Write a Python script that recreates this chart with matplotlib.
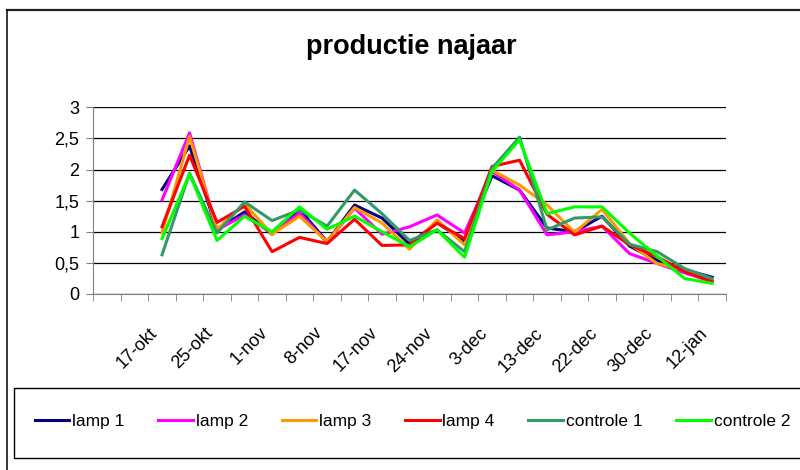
import numpy as np
import matplotlib.pyplot as plt
from matplotlib.patches import Rectangle

plt.rcParams['font.family'] = ['Liberation Sans', 'DejaVu Sans']

# 23 categories on the axis, data from category 2 to 22
n_cat = 23
labels = ['17-okt', '25-okt', '1-nov', '8-nov', '17-nov', '24-nov',
          '3-dec', '13-dec', '22-dec', '30-dec', '12-jan']
label_pos = list(range(2, 23, 2))
first = 2

lamp1 = [1.68, 2.38, 1.03, 1.32, 0.96, 1.36, 0.84, 1.43, 1.22, 0.80, 1.15,
         0.84, 1.90, 1.67, 1.06, 1.00, 1.25, 0.77, 0.54, 0.39, 0.27]
lamp2 = [1.51, 2.59, 1.03, 1.27, 0.98, 1.30, 0.83, 1.38, 0.96, 1.08, 1.27,
         0.98, 1.97, 1.67, 0.95, 1.00, 1.09, 0.65, 0.49, 0.34, 0.20]
lamp3 = [0.98, 2.53, 1.04, 1.45, 0.96, 1.25, 0.84, 1.39, 1.14, 0.72, 1.19,
         0.79, 1.99, 1.75, 1.43, 0.99, 1.36, 0.81, 0.49, 0.39, 0.22]
lamp4 = [1.08, 2.23, 1.15, 1.41, 0.68, 0.91, 0.81, 1.20, 0.78, 0.79, 1.14,
         0.89, 2.05, 2.15, 1.28, 0.95, 1.09, 0.79, 0.60, 0.36, 0.20]
controle1 = [0.63, 1.94, 0.98, 1.48, 1.18, 1.35, 1.09, 1.67, 1.29, 0.86, 1.03,
             0.68, 2.02, 2.52, 1.03, 1.22, 1.24, 0.80, 0.68, 0.41, 0.25]
controle2 = [0.89, 1.93, 0.86, 1.25, 1.00, 1.40, 1.04, 1.25, 1.00, 0.76, 1.03,
             0.59, 1.97, 2.48, 1.29, 1.40, 1.40, 0.98, 0.61, 0.25, 0.17]

series = [('lamp 1', lamp1, '#000080'),
          ('lamp 2', lamp2, '#FF00FF'),
          ('lamp 3', lamp3, '#FF9900'),
          ('lamp 4', lamp4, '#FF0000'),
          ('controle 1', controle1, '#339966'),
          ('controle 2', controle2, '#00FF00')]

fig = plt.figure(figsize=(8, 4.7), dpi=100)
W, H = 800, 470

# outer chart border (only top and left are inside the picture)
fig.lines.append(plt.Line2D([7 / W, 1.0], [1 - 9.5 / H, 1 - 9.5 / H],
                            transform=fig.transFigure, color='#222222', lw=1.6))
fig.lines.append(plt.Line2D([7 / W, 7 / W], [0, 1 - 9.5 / H],
                            transform=fig.transFigure, color='black', lw=1.1))

ax = fig.add_axes([93.3 / W, 1 - 294 / H, 632.5 / W, 186.7 / H])

x = np.arange(first, first + len(lamp1)) + 0.5
for name, vals, col in series:
    ax.plot(x, vals, color=col, lw=2.2, label=name)

ax.set_xlim(0, n_cat)
ax.set_ylim(0, 3)
yt = np.arange(0, 3.01, 0.5)
ax.set_yticks(yt)
ax.set_yticklabels([('%g' % v).replace('.', ',') for v in yt], fontsize=13)
ax.grid(axis='y', color='black', lw=0.9)
ax.set_axisbelow(True)

# rotated labels end just left of the category centre
ax.set_xticks(np.array(label_pos) + 0.03)
ax.set_xticklabels(labels, rotation=45, ha='right', rotation_mode='anchor', fontsize=13)
ax.set_xticks(np.arange(0, n_cat + 1), minor=True)
ax.tick_params(axis='x', which='major', length=0, pad=22)
ax.tick_params(axis='x', which='minor', length=5, color='#808080')
ax.tick_params(axis='y', length=5, color='#808080', pad=5)

for s in ['top', 'right']:
    ax.spines[s].set_visible(False)
ax.spines['left'].set_color('#808080')
ax.spines['bottom'].set_color('#808080')

fig.text(411 / W, 1 - 47 / H, 'productie najaar', ha='center', va='center',
         fontsize=19.5, fontweight='bold')

# legend box
fig.patches.append(Rectangle((14 / W, 1 - 458 / H), 800 / W, 70 / H,
                             transform=fig.transFigure, facecolor='white',
                             edgecolor='black', lw=1))
handles, names = ax.get_legend_handles_labels()
fig.legend(handles, names, ncol=6, frameon=False, fontsize=12.5,
           loc='center left', bbox_to_anchor=(19 / W, 1 - 421 / H),
           handlelength=2.0, handletextpad=0.15, columnspacing=1.95)

fig.savefig('out.png')
